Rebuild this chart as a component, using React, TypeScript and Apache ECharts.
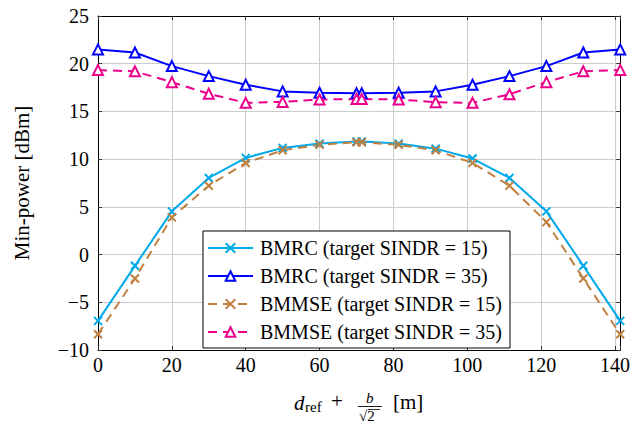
import React, { useEffect, useRef } from "react";
import * as echarts from "echarts";

const xValues = [0, 10, 20, 30, 40, 50, 60, 70, 71.42, 81.42, 91.42, 101.42, 111.42, 121.42, 131.42, 141.42];
const bmrc15 = [-6.95, -1.18, 4.53, 8.03, 10.13, 11.18, 11.63, 11.85, 11.85, 11.63, 11.1, 10.06, 8.03, 4.53, -1.18, -6.95];
const bmrc35 = [21.5, 21.18, 19.75, 18.7, 17.8, 17.1, 16.95, 16.9, 16.9, 16.95, 17.1, 17.8, 18.7, 19.75, 21.18, 21.5];
const bmmse15 = [-8.35, -2.5, 3.9, 7.22, 9.6, 10.93, 11.5, 11.77, 11.77, 11.5, 10.93, 9.6, 7.22, 3.4, -2.5, -8.35];
const bmmse35 = [19.33, 19.2, 18.07, 16.85, 15.9, 16.0, 16.25, 16.3, 16.3, 16.25, 15.97, 15.9, 16.8, 18.07, 19.2, 19.35];
const seriesNames = [
  "BMRC (target SINDR = 15)",
  "BMRC (target SINDR = 35)",
  "BMMSE (target SINDR = 15)",
  "BMMSE (target SINDR = 35)",
];

const FONT = "Liberation Serif";
const CROSS = "path://M0,0L10,10M10,0L0,10";

const fmt = (v: number) => (v < 0 ? "\u2212" + Math.abs(v) : String(v));

export default function App() {
  const ref = useRef<HTMLDivElement>(null);
  useEffect(() => {
    if (!ref.current) return;
    const chart = echarts.init(ref.current, undefined, { renderer: "svg" });
    const pts = (ys: number[]) => xValues.map((x, i) => [x, ys[i]]);
    const mk = (
      name: string,
      ys: number[],
      color: string,
      dashed: boolean,
      tri: boolean
    ) => ({
      name,
      type: "line",
      data: pts(ys),
      xAxisIndex: 0,
      yAxisIndex: 0,
      symbol: tri ? "triangle" : CROSS,
      symbolSize: tri ? 10 : 8,
      showAllSymbol: true,
      lineStyle: { color, width: 2, type: dashed ? [9, 6] : "solid" },
      itemStyle: tri
        ? { color: "#ffffff", borderColor: color, borderWidth: 2 }
        : { color: color, borderColor: color, borderWidth: 2 },
      z: tri ? 3 : 2,
    });
    chart.setOption({
      animation: false,
      backgroundColor: "#ffffff",
      textStyle: { fontFamily: FONT },
      grid: { left: 98, right: 12, top: 16, bottom: 72, containLabel: false },
      legend: {
        orient: "vertical",
        left: 203,
        top: 231,
        padding: [7, 8, 6, 4],
        itemGap: 8,
        itemWidth: 45,
        itemHeight: 12,
        borderColor: "#000",
        borderWidth: 1,
        backgroundColor: "#fff",
        textStyle: { fontFamily: FONT, fontSize: 20, color: "#000", padding: [0, 0, 0, 2] },
        data: seriesNames,
      },
      xAxis: [
        {
          type: "value",
          min: 0,
          max: 141.42,
          interval: 20,
          axisLine: { show: true, onZero: false, lineStyle: { color: "#000", width: 1 } },
          axisTick: { show: true, inside: true, length: 4, lineStyle: { color: "#333" } },
          axisLabel: {
            fontFamily: FONT,
            fontSize: 20,
            color: "#000",
            margin: 5,
            formatter: (v: number) => (Math.abs(v % 20) < 1e-6 ? fmt(v) : ""),
          },
          splitLine: { show: true, lineStyle: { color: "#cccccc", width: 1 } },
        },
        {
          type: "value",
          position: "top",
          min: 0,
          max: 141.42,
          interval: 20,
          axisLine: { show: true, onZero: false, lineStyle: { color: "#000", width: 1 } },
          axisTick: { show: true, inside: true, length: 4, lineStyle: { color: "#333" } },
          axisLabel: { show: false },
          splitLine: { show: false },
        },
      ],
      yAxis: [
        {
          type: "value",
          min: -10,
          max: 25,
          interval: 5,
          name: "Min-power [dBm]",
          nameLocation: "middle",
          nameRotate: 90,
          nameGap: 66,
          nameTextStyle: { fontFamily: FONT, fontSize: 21, color: "#000" },
          axisLine: { show: true, onZero: false, lineStyle: { color: "#000", width: 1 } },
          axisTick: { show: true, inside: true, length: 4, lineStyle: { color: "#333" } },
          axisLabel: { fontFamily: FONT, fontSize: 20, color: "#000", margin: 9, formatter: fmt },
          splitLine: { show: true, lineStyle: { color: "#cccccc", width: 1 } },
        },
        {
          type: "value",
          position: "right",
          min: -10,
          max: 25,
          interval: 5,
          axisLine: { show: true, onZero: false, lineStyle: { color: "#000", width: 1 } },
          axisTick: { show: true, inside: true, length: 4, lineStyle: { color: "#333" } },
          axisLabel: { show: false },
          splitLine: { show: false },
        },
      ],
      series: [
        mk(seriesNames[0], bmrc15, "#00a9ea", false, false),
        mk(seriesNames[1], bmrc35, "#0000ff", false, true),
        mk(seriesNames[2], bmmse15, "#c08040", true, false),
        mk(seriesNames[3], bmmse35, "#ec008c", true, true),
      ],
      graphic: [
        { type: "text", x: 294, y: 392, style: { text: "d", font: "italic 21px " + FONT, fill: "#000" } },
        { type: "text", x: 305, y: 399, style: { text: "ref", font: "15px " + FONT, fill: "#000" } },
        { type: "text", x: 331, y: 390, style: { text: "+", font: "21px " + FONT, fill: "#000" } },
        { type: "text", x: 366, y: 390, style: { text: "b", font: "italic 15px " + FONT, fill: "#000" } },
        { type: "line", shape: { x1: 358, y1: 406.5, x2: 382, y2: 406.5 }, style: { stroke: "#000", lineWidth: 0.9 } },
        { type: "text", x: 359, y: 408, style: { text: "\u221a2", font: "15px " + FONT, fill: "#000" } },
        { type: "line", shape: { x1: 368, y1: 409.5, x2: 380, y2: 409.5 }, style: { stroke: "#000", lineWidth: 0.8 } },
        { type: "text", x: 393, y: 391, style: { text: "[m]", font: "21px " + FONT, fill: "#000" } },
      ],
    });
    return () => chart.dispose();
  }, []);
  return <div ref={ref} style={{ width: 633, height: 422, position: "absolute", left: 0, top: 0 }} />;
}
